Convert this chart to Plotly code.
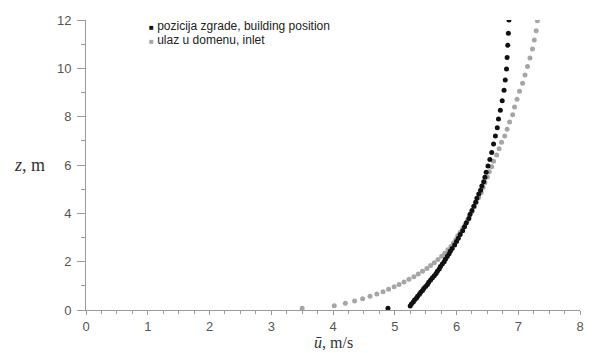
import plotly.graph_objects as go

# Building position (black) profile: height z [m] and mean velocity u [m/s]
building_z = [0.07, 0.17, 0.25, 0.33, 0.41, 0.49, 0.57, 0.65, 0.73, 0.81, 0.89, 0.97,
              1.06, 1.15, 1.24, 1.33, 1.42, 1.51, 1.60, 1.70, 1.80, 1.90, 2.00, 2.10,
              2.21, 2.32, 2.43, 2.55, 2.69, 2.83, 2.97, 3.12, 3.28, 3.45, 3.61, 3.79,
              3.96, 4.12, 4.29, 4.46, 4.62, 4.80, 4.96, 5.13, 5.31, 5.49, 5.70, 5.96,
              6.23, 6.52, 6.87, 7.20, 7.54, 7.90, 8.27, 8.66, 9.09, 9.52, 9.97, 10.45,
              10.96, 11.45, 12.0]
building_u = [4.89, 5.25, 5.27, 5.30, 5.32, 5.35, 5.37, 5.40, 5.42, 5.45, 5.47, 5.50,
              5.53, 5.55, 5.58, 5.61, 5.64, 5.67, 5.69, 5.72, 5.74, 5.77, 5.80, 5.82,
              5.85, 5.88, 5.90, 5.93, 5.97, 6.00, 6.03, 6.06, 6.10, 6.13, 6.16, 6.20,
              6.22, 6.25, 6.28, 6.31, 6.33, 6.36, 6.39, 6.41, 6.44, 6.46, 6.48, 6.51,
              6.54, 6.57, 6.60, 6.63, 6.66, 6.68, 6.71, 6.74, 6.77, 6.79, 6.81, 6.82,
              6.83, 6.84, 6.85]

# Inlet (gray) profile
inlet_z = [0.07, 0.18, 0.28, 0.37, 0.47, 0.57, 0.66, 0.76, 0.86, 0.96, 1.06, 1.16,
           1.27, 1.38, 1.49, 1.60, 1.72, 1.84, 1.96, 2.09, 2.22, 2.35, 2.49, 2.63,
           2.77, 2.92, 3.07, 3.22, 3.38, 3.55, 3.72, 3.90, 4.08, 4.27, 4.46, 4.66,
           4.86, 5.07, 5.28, 5.50, 5.72, 5.93, 6.15, 6.41, 6.67, 6.94, 7.20, 7.48,
           7.78, 8.08, 8.40, 8.72, 9.05, 9.38, 9.72, 10.08, 10.43, 10.80, 11.17,
           11.56, 11.97]
inlet_u = [3.50, 4.02, 4.20, 4.35, 4.48, 4.60, 4.71, 4.81, 4.90, 4.99, 5.07, 5.15,
           5.23, 5.31, 5.38, 5.45, 5.52, 5.58, 5.64, 5.70, 5.76, 5.81, 5.86, 5.91,
           5.95, 5.99, 6.02, 6.06, 6.10, 6.14, 6.18, 6.21, 6.25, 6.29, 6.32, 6.36,
           6.40, 6.43, 6.46, 6.50, 6.53, 6.57, 6.60, 6.65, 6.69, 6.73, 6.78, 6.82,
           6.86, 6.91, 6.94, 6.98, 7.02, 7.07, 7.11, 7.15, 7.19, 7.23, 7.26, 7.29,
           7.31]

series_names = ["pozicija zgrade, building position", "ulaz u domenu, inlet"]
x_ticks = [0, 1, 2, 3, 4, 5, 6, 7, 8]
y_ticks = [0, 2, 4, 6, 8, 10, 12]

BLACK = "#111111"
GRAY = "#a6a6a6"
AXIS = "#9a9a9a"

fig = go.Figure()
fig.add_trace(go.Scatter(x=inlet_u, y=inlet_z, mode="markers", name=series_names[1],
                         marker=dict(color=GRAY, size=5, line=dict(width=0)),
                         showlegend=False))
fig.add_trace(go.Scatter(x=building_u, y=building_z, mode="markers", name=series_names[0],
                         marker=dict(color=BLACK, size=5, line=dict(width=0)),
                         showlegend=False))

tickfont = dict(family="Liberation Sans, Arial, sans-serif", size=13, color="#555555")

fig.update_xaxes(range=[0, 8], tickvals=x_ticks, ticktext=[str(v) for v in x_ticks],
                 showgrid=False, zeroline=False, showline=True, linecolor=AXIS, linewidth=1,
                 ticks="outside", ticklen=4, tickcolor=AXIS, tickwidth=1,
                 tickfont=tickfont, ticklabelstandoff=0,
                 minor=dict(dtick=0.25, ticks="outside", ticklen=3, tickcolor=AXIS, showgrid=False))
fig.update_yaxes(range=[0, 12], tickvals=y_ticks, ticktext=[str(v) for v in y_ticks],
                 showgrid=False, zeroline=False, showline=True, linecolor=AXIS, linewidth=1,
                 ticks="outside", ticklen=8, tickcolor=AXIS, tickwidth=1,
                 tickfont=tickfont, ticklabelstandoff=3,
                 minor=dict(dtick=1, ticks="outside", ticklen=4, tickcolor=AXIS, showgrid=False))

serif = "Liberation Serif, Times New Roman, serif"
legfont = dict(family="Liberation Sans, Arial, sans-serif", size=12, color="#222222")
fig.update_layout(
    width=592, height=353,
    margin=dict(l=86, r=8, t=20, b=43),
    paper_bgcolor="white", plot_bgcolor="white",
    annotations=[
        dict(text="<i>z</i>, m", xref="paper", yref="paper", x=-0.115, y=0.5,
             xanchor="center", yanchor="middle", showarrow=False,
             font=dict(family=serif, size=18, color="#333333")),
        dict(text="<i>ū</i>, m/s", xref="paper", yref="paper", x=0.502, y=-0.113,
             xanchor="center", yanchor="middle", showarrow=False,
             font=dict(family=serif, size=16, color="#333333")),
        dict(text=f"<span style='color:{BLACK};font-size:8px'>■</span> {series_names[0]}",
             xref="paper", yref="paper", x=0.124, y=0.979, xanchor="left", yanchor="middle",
             showarrow=False, font=legfont),
        dict(text=f"<span style='color:{GRAY};font-size:8px'>■</span> {series_names[1]}",
             xref="paper", yref="paper", x=0.124, y=0.930, xanchor="left", yanchor="middle",
             showarrow=False, font=legfont),
    ],
)

fig.write_html("out.html")
